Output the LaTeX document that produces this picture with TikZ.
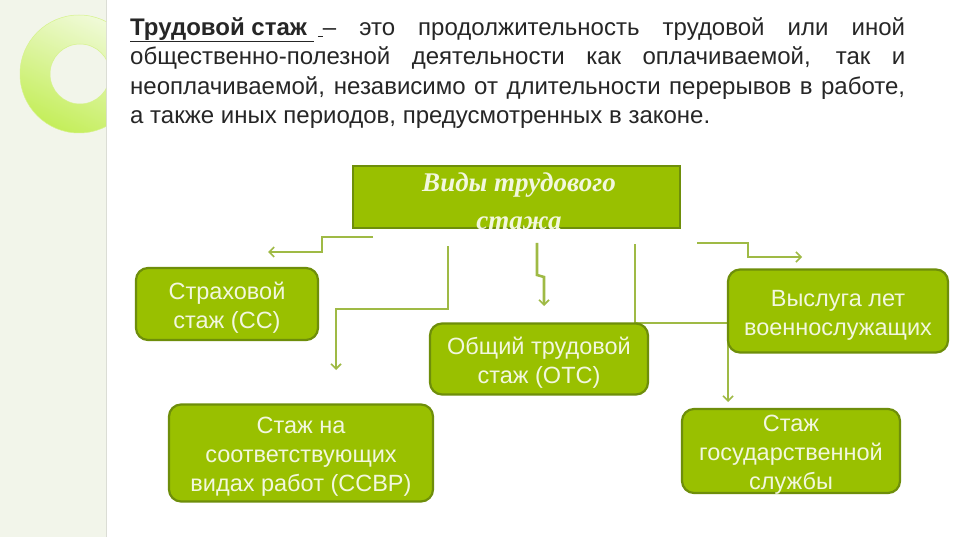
\documentclass[tikz,border=0pt]{standalone}
\usepackage{fontspec}
\setmainfont{Liberation Sans}
\newfontfamily\titlefont{Liberation Serif}
\usetikzlibrary{arrows.meta}
\definecolor{boxfill}{HTML}{99C000}
\definecolor{boxedge}{HTML}{6E8E0A}
\definecolor{boxtext}{HTML}{F2F7DE}
\definecolor{linecol}{HTML}{9FBA45}
\definecolor{stripbg}{HTML}{F2F5EA}
\definecolor{ringlight}{HTML}{F0FAD8}
\definecolor{ringdark}{HTML}{C4EE5A}
\tikzset{
  kindbox/.style={draw=boxedge, line width=2.2pt, fill=boxfill, rounded corners=12pt, inner sep=0pt},
  kindtext/.style={text=boxtext, align=center, font=\fontsize{23.5}{29}\selectfont, inner sep=0pt, yshift=-4pt},
  conn/.style={draw=linecol, line width=2.6pt, -{Straight Barb[length=5pt,width=10pt,line width=1.6pt]}},
}
\begin{document}
\begin{tikzpicture}[x=1pt,y=-1pt]
\useasboundingbox (0,0) rectangle (960,537);
\fill[white] (0,0) rectangle (960,537);
% left strip
\fill[stripbg] (0,0) rectangle (106,537);
\draw[color=stripbg!80!gray, line width=0.6pt] (106,0) -- (106,537);
\begin{scope}
  \clip (0,0) rectangle (106,537);
  \shade[even odd rule, top color=ringlight, bottom color=ringdark, shading angle=-25]
    (79,74) circle (59) (80,74) circle (30);
  \draw[color=ringdark!70!white, line width=0.5pt] (79,74) circle (59) (80,74) circle (30);
\end{scope}
% paragraph
\node[anchor=north west, text width=775pt, align=justify, inner sep=0pt, text=black!85,
      font=\fontsize{24}{29.5}\selectfont] (para) at (130,17)
  {\underline{\textbf{Трудовой стаж}\ }\,\underline{\hspace{5pt}}– это продолжительность трудовой или иной\linebreak
   общественно-полезной деятельности как оплачиваемой, так и\linebreak
   неоплачиваемой, независимо от длительности перерывов в работе,\linebreak
   а также иных периодов, предусмотренных в законе.};
% connectors (drawn first, boxes on top)
\coordinate (a0) at (373,237); \coordinate (a1) at (268,252);
\coordinate (b0) at (448,246); \coordinate (b1) at (336,370);
\coordinate (c0) at (537,243); \coordinate (c1) at (544,306);
\coordinate (d0) at (635,244); \coordinate (d1) at (728,402);
\coordinate (e0) at (697,243); \coordinate (e1) at (802,257);
\draw[conn] (a0) -- (322,237) -- (322,252) -- (a1);
\draw[conn] (b0) -- (448,309) -- (336,309) -- (b1);
\draw[conn] (c0) -- (537,275) -- (544,277) -- (c1);
\draw[conn] (d0) -- (635,323) -- (728,323) -- (d1);
\draw[conn] (e0) -- (748,243) -- (748,257) -- (e1);
% title box
\node[draw=boxedge, line width=1.5pt, fill=boxfill, minimum width=327pt, minimum height=62pt,
      inner sep=0pt] (head) at (516.5,197) {};
\node[text=boxtext, align=center, font=\titlefont\bfseries\itshape\fontsize{27}{38}\selectfont]
  (headtxt) at (519,201) {Виды трудового\\стажа};
% boxes
\node[kindbox, minimum width=182pt, minimum height=72pt] (ss) at (227,304) {};
\node[kindtext] (sst) at (ss.center) {Страховой\\стаж (СС)};
\node[kindbox, minimum width=218pt, minimum height=71pt] (ots) at (539,359) {};
\node[kindtext] (otst) at (ots.center) {Общий трудовой\\стаж (ОТС)};
\node[kindbox, minimum width=220pt, minimum height=83pt] (voen) at (838,311) {};
\node[kindtext] (voent) at (voen.center) {Выслуга лет\\военнослужащих};
\node[kindbox, minimum width=264pt, minimum height=97pt] (ssvr) at (301,453) {};
\node[kindtext] (ssvrt) at (ssvr.center) {Стаж на\\соответствующих\\видах работ (ССВР)};
\node[kindbox, minimum width=218pt, minimum height=84pt] (gos) at (791,451) {};
\node[kindtext] (gost) at (gos.center) {Стаж\\государственной\\службы};
\end{tikzpicture}
\end{document}
